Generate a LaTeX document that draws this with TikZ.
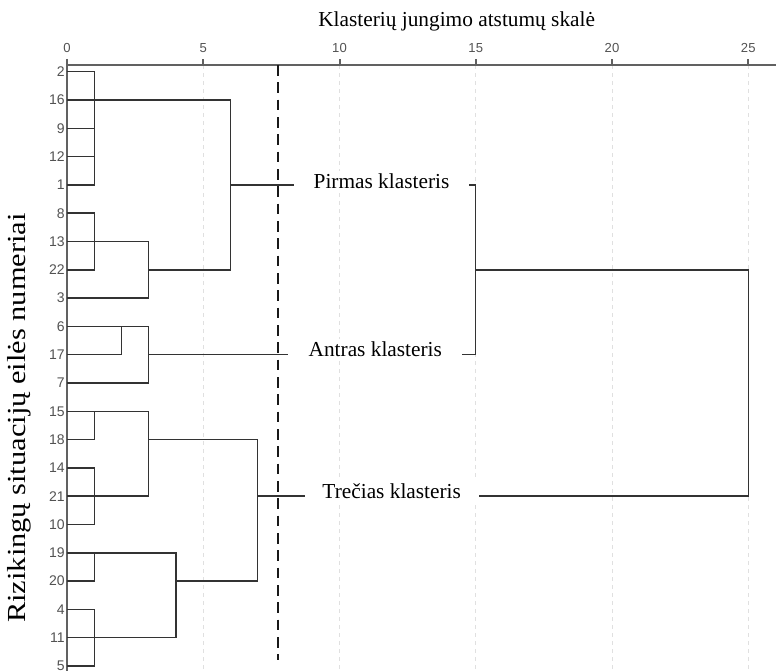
\documentclass[tikz,border=0pt]{standalone}
\usepackage{fontspec}
\setmainfont{Liberation Serif}
\newfontfamily\numfont{Liberation Sans}

\begin{document}
\begin{tikzpicture}[x=20.4375pt,y=-21.225pt,
  leaf/.style={left,inner xsep=1.5pt,font=\numfont\fontsize{10.5}{12}\selectfont,text=black!68},
  tk/.style={anchor=base,font=\numfont\fontsize{9.8}{11}\selectfont,text=black!68},
  br/.style={draw=black!80,line width=1.1pt},
  ax/.style={draw=black!62,line width=1.5pt},
  grd/.style={draw=black!12,line width=0.6pt,dash pattern=on 3pt off 3pt},
  cut/.style={draw=black!90,line width=1.6pt,dash pattern=on 8pt off 5pt},
  cl/.style={anchor=base,fill=white,minimum width=130.5pt,inner ysep=2pt,font=\fontsize{16}{19}\selectfont}]

  \useasboundingbox (-2.4587,-2.5336) rectangle (26.018,21.177);

  % scale and grid
  \foreach \t in {5,10,...,25}
    \draw[grd] (\t,-0.2367) -- (\t,21.177);
  \draw[ax] (0,-0.2367) -- (26.02,-0.2367);
  \draw[ax] (0,-0.449) -- (0,21.177);
  \foreach \t in {0,5,...,25} {
    \draw[ax] (\t,-0.2367) -- (\t,-0.449);
    \node[tk] (t\t) at (\t,-0.671) {\t};
  }
  \node[anchor=base,font=\fontsize{16}{19}\selectfont] (ttl) at (14.30,-1.590) {Klasterių jungimo atstumų skalė};
  \node[anchor=base,rotate=90,xscale=1.17,font=\fontsize{19.5}{22}\selectfont] (ylab) at (-1.541,12.237) {Rizikingų situacijų eilės numeriai};

  % leaves
  \foreach \lab [count=\i from 0] in {2,16,9,12,1,8,13,22,3,6,17,7,15,18,14,21,10,19,20,4,11,5}
    \node[leaf] (n\lab) at (0,\i) {\lab};

  % first cluster
  \draw[br] (n2.east) -| (1,4) -- (n1.east);
  \draw[br] (n9.east) -- (1,2);
  \draw[br] (n12.east) -- (1,3);
  \draw[br] (n8.east) -| (1,7) -- (n22.east);
  \draw[br] (n13.east) -| (3,8) -- (n3.east);
  \draw[br] (n16.east) -| (6,7) -- (3,7);

  % second cluster
  \draw[br] (n6.east) -| (3,11) -- (n7.east);
  \draw[br] (n17.east) -| (2,9);

  % third cluster
  \draw[br] (n15.east) -| (3,15) -- (n21.east);
  \draw[br] (n18.east) -| (1,12);
  \draw[br] (n14.east) -| (1,16) -- (n10.east);
  \draw[br] (n19.east) -| (4,20) -- (n11.east);
  \draw[br] (n20.east) -| (1,17);
  \draw[br] (n4.east) -| (1,21) -- (n5.east);
  \draw[br] (3,13) -| (7,18) -- (4,18);

  % joining the clusters
  \draw[br] (6,4) -| (15,10) -- (3,10);
  \draw[br] (15,7) -| (25,15) -- (7,15);

  \draw[cut] (7.75,-0.2367) -- (7.75,20.79);

  \node[cl] (k1) at (11.541,4.12) {Pirmas klasteris};
  \node[cl] (k2) at (11.314,10.05) {Antras klasteris};
  \node[cl] (k3) at (11.916,15.07) {Trečias klasteris};
\end{tikzpicture}
\end{document}
